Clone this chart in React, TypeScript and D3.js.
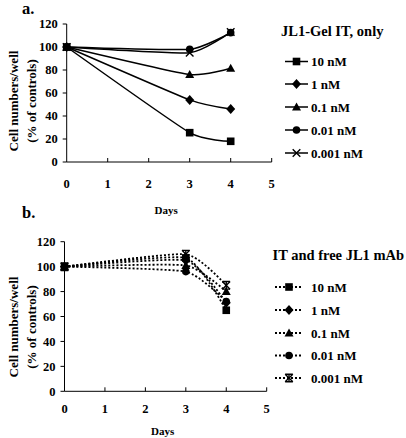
import React from "react";
import * as d3 from "d3";

const days = [0, 3, 4];
const concLabels = ["10 nM", "1 nM", "0.1 nM", "0.01 nM", "0.001 nM"];
const markerTypes = ["square", "diamond", "triangle", "circle", "x"];
const itOnly = [
  [100, 25.5, 18],
  [100, 54, 46],
  [100, 76, 81.5],
  [100, 98, 112.5],
  [100, 95, 113],
];
const itFree = [
  [100, 107, 65],
  [100, 105, 71],
  [100, 101, 80],
  [100, 96, 72],
  [100, 110, 85],
];
const yTicks = [0, 20, 40, 60, 80, 100, 120];
const xTicks = [0, 1, 2, 3, 4, 5];

const FONT = "Liberation Serif";

function Marker({ type, x, y, star }: { type: string; x: number; y: number; star?: boolean }) {
  if (type === "square") return <rect x={x - 3.8} y={y - 3.8} width={7.6} height={7.6} fill="#000" />;
  if (type === "diamond")
    return <path d={`M${x},${y - 5}L${x + 4.5},${y}L${x},${y + 5}L${x - 4.5},${y}Z`} fill="#000" />;
  if (type === "triangle")
    return <path d={`M${x},${y - 4.5}L${x + 4.5},${y + 3.5}L${x - 4.5},${y + 3.5}Z`} fill="#000" />;
  if (type === "circle") return <circle cx={x} cy={y} r={3.8} fill="#000" />;
  const s = 3.8;
  return (
    <g stroke="#000" strokeWidth={1.4} fill="none">
      <path d={`M${x - s},${y - s}L${x + s},${y + s}M${x - s},${y + s}L${x + s},${y - s}`} />
      {star ? <path d={`M${x},${y - s - 0.5}L${x},${y + s + 0.5}M${x - s},${y - s}L${x + s},${y - s}M${x - s},${y + s}L${x + s},${y + s}`} /> : null}
    </g>
  );
}

function Panel({
  data, x0, x1, y0, y1, dashed, label, labelY, title, titleX, titleY, legendRows, legendLineX0, legendLineX1, legendTextX, daysY, tickLabelY, yLabelCY,
}: any) {
  const x = d3.scaleLinear().domain([0, 5]).range([x0, x1]);
  const y = d3.scaleLinear().domain([0, 120]).range([y0, y1]);
  const line = d3
    .line<number>()
    .x((_, i) => x(days[i]))
    .y((v) => y(v))
    .curve(d3.curveCardinal.tension(0.5));
  return (
    <g>
      <text x={22} y={labelY} fontFamily={FONT} fontWeight="bold" fontSize={16.5}>{label}</text>
      <line x1={x0} x2={x0} y1={y(120)} y2={y0} stroke="#000" strokeWidth={1} />
      <line x1={x0} x2={x1} y1={y0} y2={y0} stroke="#000" strokeWidth={1} />
      {yTicks.map((t) => (
        <g key={t}>
          <line x1={x0 - 4} x2={x0} y1={y(t)} y2={y(t)} stroke="#000" />
          <text x={x0 - 9} y={y(t)} dy="0.35em" textAnchor="end" fontFamily={FONT} fontWeight="bold" fontSize={12.5}>{t}</text>
        </g>
      ))}
      {xTicks.map((t) => (
        <g key={t}>
          {t > 0 ? <line x1={x(t)} x2={x(t)} y1={y0 - 4} y2={y0} stroke="#000" /> : null}
          <text x={x(t)} y={tickLabelY} textAnchor="middle" fontFamily={FONT} fontWeight="bold" fontSize={12.5}>{t}</text>
        </g>
      ))}
      <text x={(x0 + x1) / 2 - 3} y={daysY} textAnchor="middle" fontFamily={FONT} fontWeight="bold" fontSize={11}>Days</text>
      <text transform={`translate(18,${yLabelCY}) rotate(-90)`} textAnchor="middle" fontFamily={FONT} fontWeight="bold" fontSize={13}>Cell numbers/well</text>
      <text transform={`translate(36,${yLabelCY}) rotate(-90)`} textAnchor="middle" fontFamily={FONT} fontWeight="bold" fontSize={13}>(% of controls)</text>
      {data.map((vals: number[], si: number) => (
        <path key={si} d={line(vals) || ""} fill="none" stroke="#000" strokeWidth={dashed ? 1.8 : 1.5} strokeDasharray={dashed ? "2,2" : undefined} />
      ))}
      {data.map((vals: number[], si: number) =>
        vals.map((v, i) => <Marker key={si + "-" + i} type={markerTypes[si]} x={x(days[i])} y={y(v)} star={dashed} />)
      )}
      <text x={titleX} y={titleY} fontFamily={FONT} fontWeight="bold" fontSize={14.5}>{title}</text>
      {concLabels.map((c, i) => (
        <g key={c}>
          <line x1={legendLineX0} x2={legendLineX1} y1={legendRows[i]} y2={legendRows[i]} stroke="#000" strokeWidth={dashed ? 1.8 : 1.5} strokeDasharray={dashed ? "2,2" : undefined} />
          <Marker type={markerTypes[i]} x={(legendLineX0 + legendLineX1) / 2} y={legendRows[i]} star={dashed} />
          <text x={legendTextX} y={legendRows[i]} dy="0.35em" fontFamily={FONT} fontWeight="bold" fontSize={13}>{c}</text>
        </g>
      ))}
    </g>
  );
}

export default function App() {
  return (
    <svg width={406} height={438} style={{ position: "absolute", left: 0, top: 0, background: "#fff", fontFamily: FONT }}>
      <rect width={406} height={438} fill="#fff" />
      <Panel
        data={itOnly} x0={66.7} x1={271.7} y0={162} y1={24} dashed={false}
        label="a." labelY={14} title="JL1-Gel IT, only" titleX={281} titleY={35.5}
        legendRows={[61.5, 84, 107, 130, 153]} legendLineX0={285} legendLineX1={308} legendTextX={311}
        daysY={214} tickLabelY={187.5} yLabelCY={101}
      />
      <Panel
        data={itFree} x0={64.5} x1={266.7} y0={391.3} y1={241.7} dashed={true}
        label="b." labelY={218} title="IT and free JL1 mAb" titleX={272.5} titleY={259.5}
        legendRows={[287, 310, 333, 355.5, 378]} legendLineX0={275} legendLineX1={303} legendTextX={311}
        daysY={434.5} tickLabelY={412.5} yLabelCY={327}
      />
    </svg>
  );
}
